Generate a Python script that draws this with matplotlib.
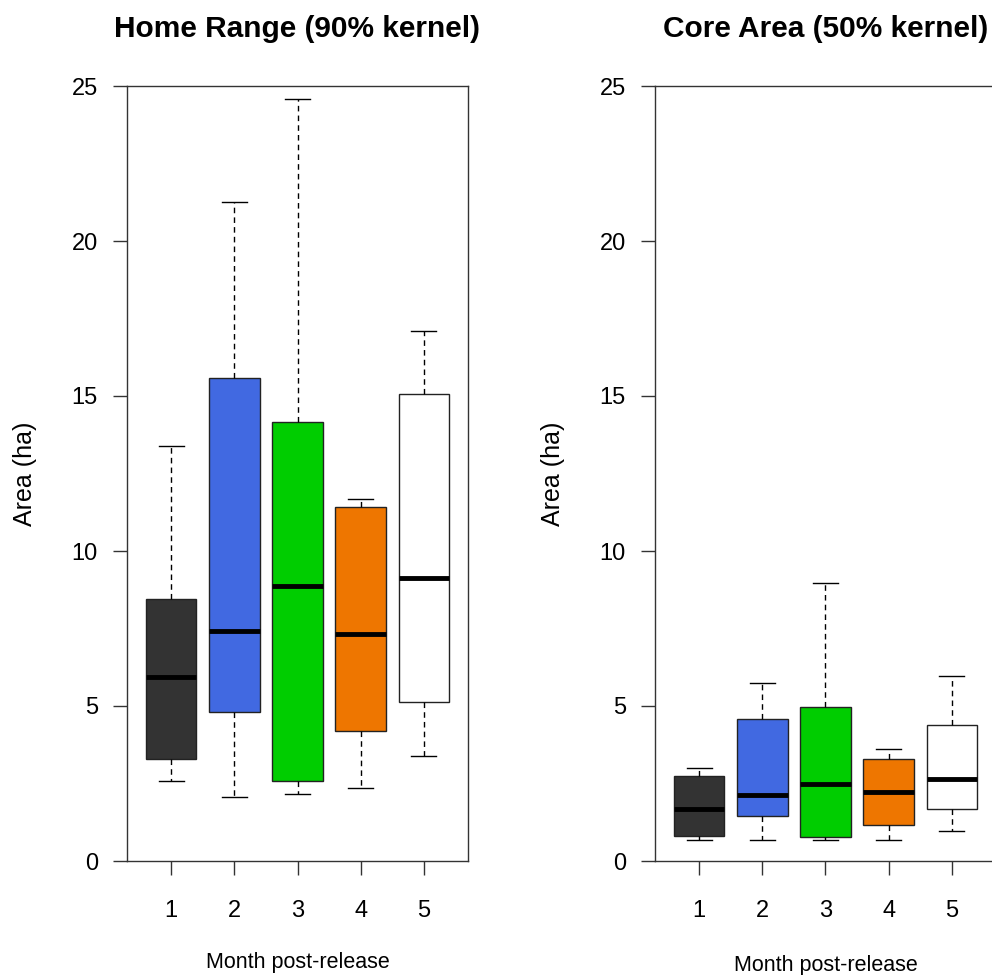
import matplotlib
matplotlib.use("Agg")
import matplotlib.pyplot as plt

plt.rcParams['font.family'] = ['Liberation Sans', 'DejaVu Sans']

months = [1, 2, 3, 4, 5]
box_colors = ["#333333", "#4169E1", "#00CD00", "#EE7600", "#FFFFFF"]

# Home range (90% kernel), ha
hr_whislo = [2.58, 2.06, 2.16, 2.35, 3.39]
hr_q1 = [3.29, 4.81, 2.58, 4.19, 5.13]
hr_med = [5.94, 7.42, 8.87, 7.32, 9.13]
hr_q3 = [8.45, 15.58, 14.16, 11.42, 15.06]
hr_whishi = [13.4, 21.26, 24.58, 11.68, 17.1]

# Core area (50% kernel), ha
ca_whislo = [0.68, 0.68, 0.68, 0.68, 0.97]
ca_q1 = [0.81, 1.45, 0.77, 1.16, 1.68]
ca_med = [1.68, 2.13, 2.48, 2.23, 2.65]
ca_q3 = [2.74, 4.58, 4.97, 3.29, 4.39]
ca_whishi = [3.0, 5.74, 8.97, 3.61, 5.97]


def make_stats(lo, q1, med, q3, hi):
    stats = []
    for i in range(len(lo)):
        stats.append({"whislo": lo[i], "q1": q1[i], "med": med[i],
                      "q3": q3[i], "whishi": hi[i], "fliers": []})
    return stats


def draw_panel(ax, stats, title, xlabelpad):
    bp = ax.bxp(stats, positions=months, widths=0.8, capwidths=0.4,
                patch_artist=True, showfliers=False,
                boxprops=dict(edgecolor="#222222", linewidth=1.0),
                medianprops=dict(color="black", linewidth=3.5, solid_capstyle="butt"),
                whiskerprops=dict(color="black", linewidth=1.0, linestyle=(0, (4, 3))),
                capprops=dict(color="black", linewidth=1.0))
    for patch, c in zip(bp["boxes"], box_colors):
        patch.set_facecolor(c)

    ax.set_xlim(0.3, 5.7)
    ax.set_ylim(0, 25)
    ax.set_yticks([0, 5, 10, 15, 20, 25])
    ax.set_xticks(months)
    ax.set_xticklabels([str(m) for m in months])
    ax.tick_params(axis="x", length=10, width=1, pad=18, labelsize=17, color="#333333")
    ax.tick_params(axis="y", length=10, width=1, pad=11, labelsize=17, color="#333333")
    for s in ax.spines.values():
        s.set_color("#333333")
        s.set_linewidth(1.0)
    ax.set_title(title, fontsize=21.5, fontweight="bold", pad=35)
    ax.set_ylabel("Area (ha)", fontsize=18, labelpad=25)
    ax.set_xlabel("Month post-release", fontsize=15.5, labelpad=xlabelpad)


fig = plt.figure(figsize=(9.92, 9.75), dpi=100)
ax1 = fig.add_axes([127 / 992, 114 / 975, 341 / 992, 775 / 975])
ax2 = fig.add_axes([655 / 992, 114 / 975, 341 / 992, 775 / 975])

draw_panel(ax1, make_stats(hr_whislo, hr_q1, hr_med, hr_q3, hr_whishi),
           "Home Range (90% kernel)", 22)
draw_panel(ax2, make_stats(ca_whislo, ca_q1, ca_med, ca_q3, ca_whishi),
           "Core Area (50% kernel)", 24)

fig.savefig("out.png", dpi=100)
plt.close(fig)
